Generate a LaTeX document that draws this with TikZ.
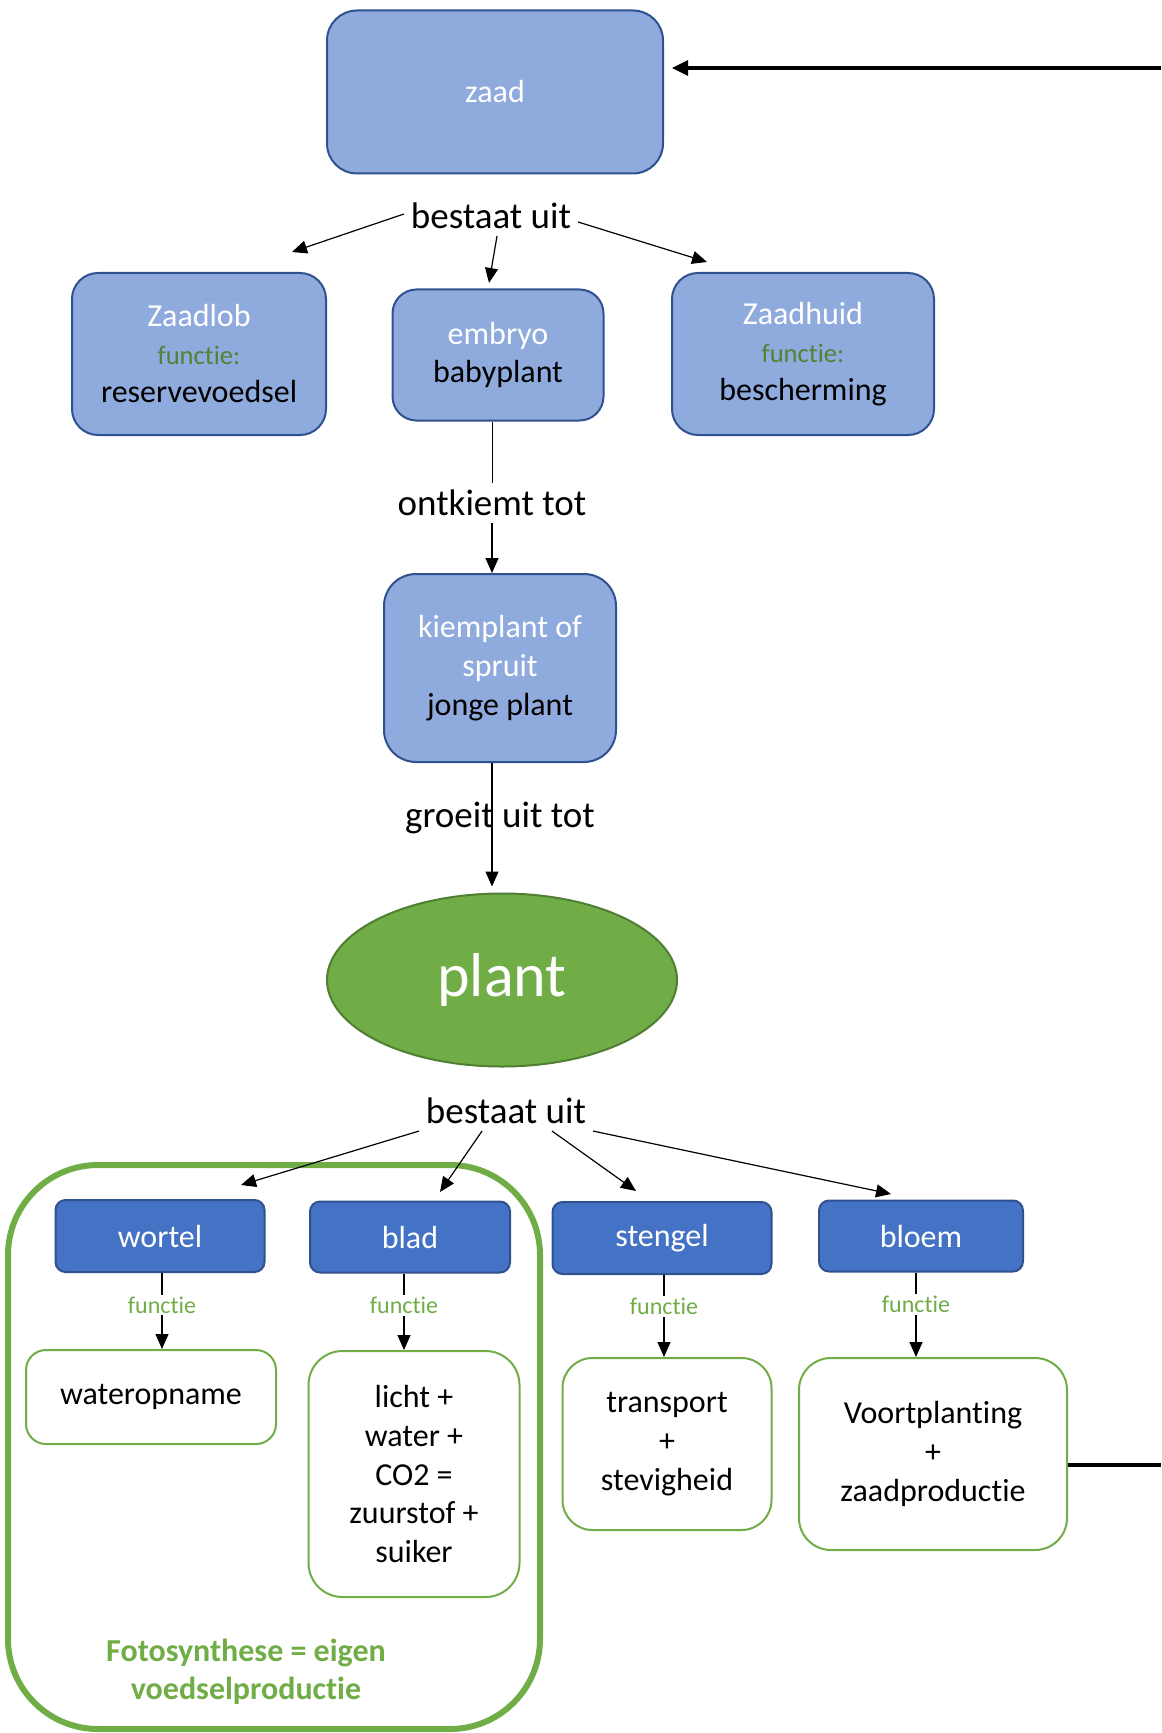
\documentclass[tikz,border=0pt]{standalone}
\usepackage{fontspec}
\setmainfont{Carlito}[Ligatures={NoCommon,NoContextual,NoRare,NoHistoric},Contextuals=NoAlternate]
\usetikzlibrary{arrows.meta,shapes.geometric}
\definecolor{lichtblauw}{HTML}{8FAADC}
\definecolor{donkerblauw}{HTML}{2F528F}
\definecolor{middenblauw}{HTML}{4472C4}
\definecolor{groen}{HTML}{70AD47}
\definecolor{donkergroen}{HTML}{548235}
\definecolor{plantrand}{HTML}{507E32}
\newcommand{\fs}[2]{\fontsize{#1}{#2}\selectfont}
\begin{document}
\begin{tikzpicture}[x=0.5pt,y=-0.5pt,line join=round,
	licht/.style={draw=donkerblauw,fill=lichtblauw,line width=1pt,text=white,align=center,inner sep=0pt,font=\fs{16}{19}},
	deel/.style={draw=donkerblauw,fill=middenblauw,line width=1pt,rounded corners=5pt,text=white,inner sep=0pt,font=\fs{16}{19}},
	taak/.style={draw=groen,fill=white,line width=1pt,align=center,inner sep=0pt,font=\fs{16}{19.4}},
	woord/.style={font=\fs{18.5}{22}},
	functie/.style={fill=white,text=groen,inner sep=1pt,font=\fs{12}{14}},
	pijl/.style={-{Triangle[length=7.5pt,width=6.5pt]},line width=0.6pt},
	dik/.style={line width=1.6pt}]
	\useasboundingbox (0,0) rectangle (1161,1733);
	\draw[groen,line width=3pt,rounded corners=45pt] (8,1165) rectangle (540,1729);
	\node[licht,rounded corners=15pt,minimum width=168pt,minimum height=81.5pt] (zaad) at (495,92) {zaad};
	\node[woord] (bu1) at (491,216) {bestaat uit};
	\node[licht,rounded corners=13pt,minimum width=127pt,minimum height=81pt] (zaadlob) at (199,354) {Zaadlob\\{\color{donkergroen}\fs{13.3}{19}functie:}\\{\color{black}reservevoedsel}};
	\node[licht,rounded corners=12pt,minimum width=105.5pt,minimum height=65.5pt] (embryo) at (498,355) {embryo\\{\color{black}babyplant}};
	\node[licht,rounded corners=13pt,minimum width=131pt,minimum height=81pt] (zaadhuid) at (803,354) {Zaadhuid\\{\color{donkergroen}\fs{13.3}{19}functie:}\\{\color{black}bescherming}};
	\node[woord] (ontkiemt) at (492,503) {ontkiemt tot};
	\node[licht,rounded corners=16pt,minimum width=116pt,minimum height=94pt,font=\fs{16}{19.5}] (kiemplant) at (500,668) {kiemplant of\\spruit\\{\color{black}jonge plant}};
	\node[woord] (groeit) at (500,818) {groeit uit tot};
	\node[ellipse,draw=plantrand,fill=groen,line width=1pt,text=white,minimum width=175pt,minimum height=86.5pt,font=\fs{31}{37}] (plant) at (502,980) {plant};
	\node[woord] (bu2) at (506,1111) {bestaat uit};
	\node[deel,minimum width=104.5pt,minimum height=36pt] (wortel) at (160,1236) {wortel};
	\node[deel,minimum width=100pt,minimum height=35.5pt] (blad) at (410,1237) {blad};
	\node[deel,minimum width=109.5pt,minimum height=36pt] (stengel) at (662,1238) {stengel};
	\node[deel,minimum width=102pt,minimum height=35.5pt] (bloem) at (921,1236) {bloem};
	\node[taak,rounded corners=10pt,minimum width=125pt,minimum height=47pt] (water) at (151,1397) {wateropname};
	\node[taak,rounded corners=17pt,minimum width=105.5pt,minimum height=123pt] (foto) at (414,1474) {licht +\\water +\\CO2 =\\zuurstof +\\suiker};
	\node[taak,rounded corners=15pt,minimum width=104.5pt,minimum height=86pt] (transport) at (667,1444) {transport\\+\\stevigheid};
	\node[taak,rounded corners=16pt,minimum width=134pt,minimum height=96pt] (voort) at (933,1454) {Voortplanting\\+\\zaadproductie};
	\node[text=groen,align=center,font=\bfseries\fs{16}{19}] (fotosynthese) at (246,1672) {Fotosynthese = eigen\\voedselproductie};
	\coordinate (rb) at (1161,68);
	\coordinate (ro) at (1161,1465);
	\coordinate (zl) at (292,252);
	\coordinate (em) at (489,283);
	\coordinate (zh) at (707,262);
	\coordinate (wo) at (241,1185);
	\coordinate (bl) at (440,1192);
	\coordinate (st) at (636,1191);
	\coordinate (bo) at (891,1194);
	\draw[pijl,dik,-{Triangle[length=8pt,width=7.5pt]},shorten >=4pt] (rb) -- (zaad.east |- rb);
	\draw[dik] (voort.east |- ro) -- (ro);
	\draw[pijl] ([yshift=1pt]bu1.west) -- (zl);
	\draw[pijl] ([xshift=3pt]bu1.south) -- (em);
	\draw[pijl] ([yshift=-3pt]bu1.east) -- (zh);
	\draw (ontkiemt |- embryo.south) -- (ontkiemt);
	\draw[pijl] (ontkiemt) -- (ontkiemt |- kiemplant.north);
	\draw[pijl] (ontkiemt |- kiemplant.south) -- ([yshift=3pt]ontkiemt |- plant.north);
	\draw[pijl] (bu2.south west) -- (wo);
	\draw[pijl] ([xshift=-12pt]bu2.south) -- (bl);
	\draw[pijl] ([xshift=23pt]bu2.south) -- (st);
	\draw[pijl] (bu2.south east) -- (bo);
	\draw[pijl] ([xshift=1pt]wortel.south) -- node[functie,pos=0.42]{functie} ([xshift=1pt]wortel.south |- water.north);
	\draw[pijl] ([xshift=-3pt]blad.south) -- node[functie,pos=0.42]{functie} ([xshift=-3pt]blad.south |- foto.north);
	\draw[pijl] ([xshift=1pt]stengel.south) -- node[functie,pos=0.38]{functie} ([xshift=1pt]stengel.south |- transport.north);
	\draw[pijl] ([xshift=-2.5pt]bloem.south) -- node[functie,pos=0.38]{functie} ([xshift=-2.5pt]bloem.south |- voort.north);
\end{tikzpicture}
\end{document}
